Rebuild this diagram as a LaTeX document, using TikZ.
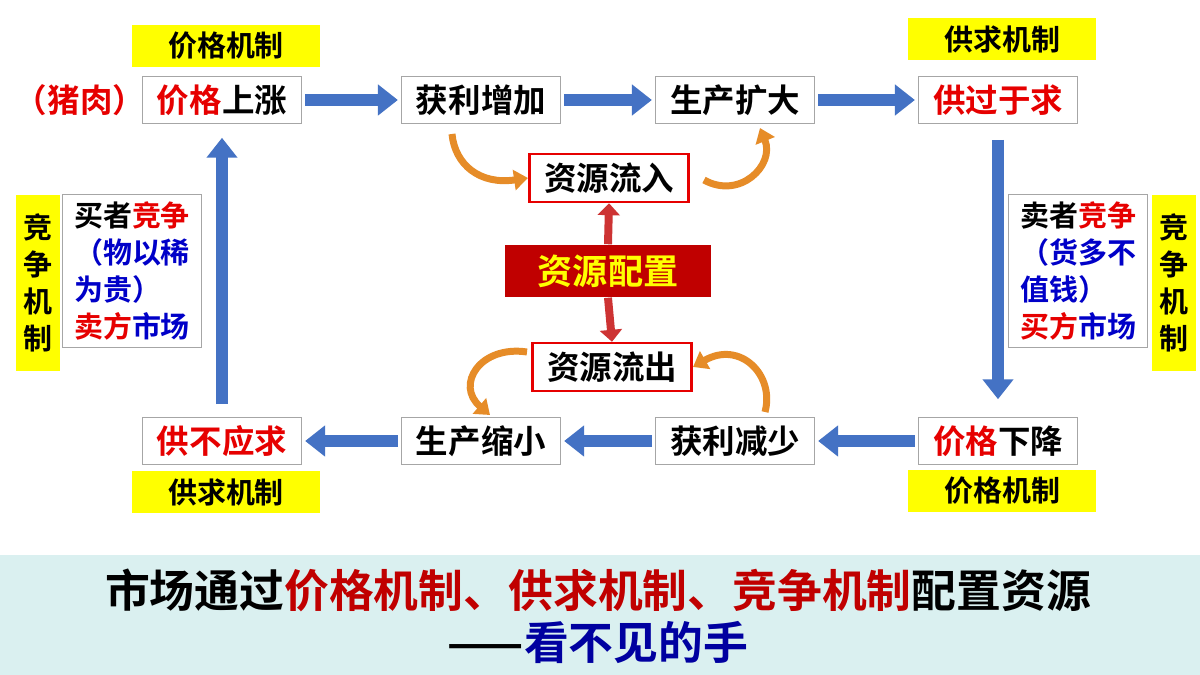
\documentclass[tikz,border=0pt]{standalone}
\usepackage{fontspec}
\setmainfont{Noto Sans CJK SC}[BoldFont={Noto Sans CJK SC Bold}]
\usetikzlibrary{arrows.meta,shadows}
\definecolor{rd}{RGB}{230,0,0}
\definecolor{dr}{RGB}{192,0,0}
\definecolor{bl}{RGB}{0,0,200}
\definecolor{ab}{RGB}{68,114,196}
\definecolor{yl}{RGB}{255,255,0}
\definecolor{cy}{RGB}{218,240,240}
\definecolor{og}{RGB}{230,140,40}
\begin{document}
\begin{tikzpicture}[x=0.02cm,y=-0.02cm,
 box/.style={draw=gray!70,line width=0.5pt,fill=white,minimum width=160*0.567pt,minimum height=47*0.567pt,font=\fontsize{18.5}{20}\selectfont\bfseries,inner sep=0},
 cbox/.style={draw=rd,line width=1.5pt,fill=white,minimum width=160*0.567pt,minimum height=48*0.567pt,font=\fontsize{18.5}{20}\selectfont\bfseries,inner sep=0},
 ylab/.style={fill=yl,minimum width=188*0.567pt,minimum height=43*0.567pt,font=\fontsize{16.5}{18}\selectfont\bfseries,inner sep=0},
 yv/.style={fill=yl,minimum width=44*0.567pt,minimum height=177*0.567pt,font=\fontsize{16.5}{21}\selectfont\bfseries,inner sep=0,align=center},
 tb/.style={draw=gray!70,line width=0.5pt,fill=white,minimum width=140*0.567pt,minimum height=153*0.567pt,font=\fontsize{16.5}{21}\selectfont\bfseries,inner sep=0,align=left},
 barr/.style={draw=ab,line width=13*0.567pt,-{Triangle[width=30*0.567pt,length=20*0.567pt]}},
 oarr/.style={draw=og,line width=7*0.567pt,-{Triangle[width=20*0.567pt,length=14*0.567pt]}},
 rarr/.style={draw=dr!80,line width=8*0.567pt,-{Triangle[width=22*0.567pt,length=12*0.567pt]}}]
\useasboundingbox (0,0) rectangle (1200,675);
\fill[white] (0,0) rectangle (1200,675);
% yellow labels
\node[ylab] (y1) at (226,46) {价格机制};
\node[ylab] (y2) at (1002,39) {供求机制};
\node[ylab] (y3) at (226,492) {供求机制};
\node[ylab] (y4) at (1002,491) {价格机制};
\node[yv] (yl) at (38,283) {竞\\争\\机\\制};
\node[yv] (yr) at (1174,283) {竞\\争\\机\\制};
\node[text=rd,font=\fontsize{18.5}{20}\selectfont\bfseries] (zr) at (80,100) {（猪肉）};
% boxes
\node[box] (t1) at (222,100) {\textcolor{rd}{价格}上涨};
\node[box] (t2) at (481,100) {获利增加};
\node[box] (t3) at (735,100) {生产扩大};
\node[box] (t4) at (998,100) {\textcolor{rd}{供过于求}};
\node[box] (b1) at (222,441) {\textcolor{rd}{供不应求}};
\node[box] (b2) at (481,441) {生产缩小};
\node[box] (b3) at (735,441) {获利减少};
\node[box] (b4) at (998,441) {\textcolor{rd}{价格}下降};
\node[cbox] (in) at (609,178) {资源流入};
\node[cbox] (out) at (612,367) {资源流出};
\node[fill=dr,minimum width=207*0.567pt,minimum height=53*0.567pt,inner sep=0,text=yl,font=\fontsize{20}{22}\selectfont\bfseries] (pz) at (608,271) {资源配置};
\node[tb] (tl) at (132,271) {买者\textcolor{rd}{竞争}\\\textcolor{bl}{（物以稀}\\\textcolor{bl}{为贵）}\\\textcolor{rd}{卖方}\textcolor{bl}{市场}};
\node[tb] (tr) at (1078,271) {卖者\textcolor{rd}{竞争}\\\textcolor{bl}{（货多不}\\\textcolor{bl}{值钱）}\\\textcolor{rd}{买方}\textcolor{bl}{市场}};
% block arrows
\draw[barr] ([xshift=3*0.567pt]t1.east) -- ([xshift=-3*0.567pt]t2.west);
\draw[barr] ([xshift=3*0.567pt]t2.east) -- ([xshift=-3*0.567pt]t3.west);
\draw[barr] ([xshift=3*0.567pt]t3.east) -- ([xshift=-3*0.567pt]t4.west);
\draw[barr] ([yshift=-16*0.567pt]t4.south) -- ([yshift=18*0.567pt]b4.north);
\draw[barr] ([xshift=-3*0.567pt]b4.west) -- ([xshift=3*0.567pt]b3.east);
\draw[barr] ([xshift=-3*0.567pt]b3.west) -- ([xshift=3*0.567pt]b2.east);
\draw[barr] ([xshift=-3*0.567pt]b2.west) -- ([xshift=3*0.567pt]b1.east);
\draw[barr] ([yshift=13*0.567pt]b1.north) -- ([yshift=-14*0.567pt]t1.south);
% red arrows
\draw[rarr] (pz.north) -- (in.south);
\draw[rarr] (pz.south) -- (out.north);
% orange curved arrows
\coordinate (o1) at (452,134); \coordinate (o2) at (704,180);
\coordinate (o3) at (527,352); \coordinate (o4) at (765,412);
\draw[oarr] (o1) .. controls (455,165) and (480,185) .. (in.west);
\draw[oarr] (o2) .. controls (740,200) and (775,165) .. (760,128);
\draw[oarr] (o3) .. controls (480,345) and (455,385) .. (490,415);
\draw[oarr] (o4) .. controls (775,375) and (740,340) .. (out.east);
% bottom band
\fill[cy] (0,555) rectangle (1200,675);
\node[font=\fontsize{25.5}{28}\selectfont\bfseries] (s1) at (598,590) {市场通过\textcolor{dr}{价格机制、供求机制、竞争机制}配置资源};
\node[font=\fontsize{25.5}{28}\selectfont\bfseries] (s2) at (598,642) {——\textcolor{bl!80!black}{看不见的手}};
\end{tikzpicture}
\end{document}
